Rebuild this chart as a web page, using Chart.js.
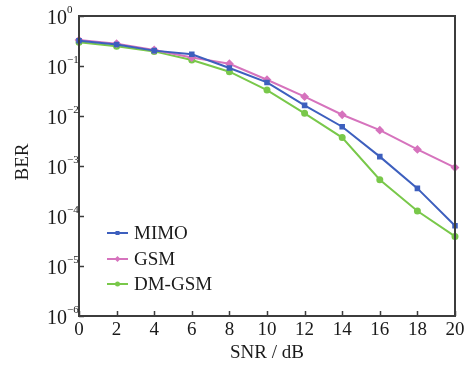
<!DOCTYPE html>
<html>
<head>
<meta charset="utf-8">
<script src="https://cdn.jsdelivr.net/npm/chart.js@4/dist/chart.umd.min.js"></script>
<style>
html,body{margin:0;padding:0;background:#fff;}
#wrap{width:475px;height:365px;}
</style>
</head>
<body>
<div id="wrap"><canvas id="c" width="475" height="365"></canvas></div>
<script>
const snr = [0, 2, 4, 6, 8, 10, 12, 14, 16, 18, 20];
const mimo = [0.32, 0.27, 0.203, 0.171, 0.091, 0.047, 0.0163, 0.0061, 0.00154, 0.000357, 0.000064];
const gsm = [0.33, 0.28, 0.209, 0.148, 0.111, 0.053, 0.0244, 0.0106, 0.0052, 0.00215, 0.00093];
const dmgsm = [0.297, 0.247, 0.196, 0.132, 0.077, 0.033, 0.0113, 0.0037, 0.00053, 0.000126, 0.000039];
const seriesNames = ['MIMO', 'GSM', 'DM-GSM'];
const xTicks = [0, 2, 4, 6, 8, 10, 12, 14, 16, 18, 20];
const yTickExps = [0, -1, -2, -3, -4, -5, -6];
const xTitle = 'SNR / dB';
const yTitle = 'BER';

const SERIF = '"Liberation Serif", "Times New Roman", serif';
const AXIS_COLOR = '#3c3c3c';
const TEXT_COLOR = '#1a1a1a';

function pts(vals){ return snr.map((x,i)=>({x:x, y:vals[i]})); }

const decor = {
  id: 'decor',
  afterDraw(chart){
    const ctx = chart.ctx;
    const a = chart.chartArea;
    const xs = chart.scales.x, ys = chart.scales.y;
    ctx.save();
    // frame
    ctx.strokeStyle = AXIS_COLOR;
    ctx.lineWidth = 2;
    ctx.strokeRect(a.left, a.top, a.right - a.left, a.bottom - a.top);
    // inward ticks
    ctx.lineWidth = 1.5;
    ctx.beginPath();
    xTicks.forEach(v=>{
      const px = Math.round(xs.getPixelForValue(v)) + 0.5;
      ctx.moveTo(px, a.bottom); ctx.lineTo(px, a.bottom - 5);
    });
    yTickExps.forEach(e=>{
      const py = Math.round(ys.getPixelForValue(Math.pow(10, e))) + 0.5;
      ctx.moveTo(a.left, py); ctx.lineTo(a.left + 5, py);
    });
    ctx.stroke();
    // y tick labels 10^e
    ctx.fillStyle = TEXT_COLOR;
    yTickExps.forEach(e=>{
      const py = ys.getPixelForValue(Math.pow(10, e));
      ctx.font = '20px ' + SERIF;
      ctx.textAlign = 'right';
      ctx.textBaseline = 'alphabetic';
      ctx.fillText('10', 67, py + 8);
      ctx.font = '11px ' + SERIF;
      ctx.textAlign = 'left';
      const s = e === 0 ? '0' : '\u2212' + String(-e);
      ctx.fillText(s, 67, py - 3);
    });
    // axis titles
    ctx.font = '19px ' + SERIF;
    ctx.textAlign = 'center';
    ctx.textBaseline = 'middle';
    ctx.fillText(xTitle, (a.left + a.right) / 2, 353);
    ctx.save();
    ctx.translate(23, 162);
    ctx.rotate(-Math.PI / 2);
    ctx.fillText(yTitle, 0, 0);
    ctx.restore();
    // legend
    const rows = [233, 259, 284];
    chart.data.datasets.forEach((ds, i)=>{
      const y = rows[i];
      ctx.strokeStyle = ds.borderColor;
      ctx.lineWidth = 2;
      ctx.beginPath();
      ctx.moveTo(107, y); ctx.lineTo(128, y);
      ctx.stroke();
      ctx.fillStyle = ds.borderColor;
      ctx.beginPath();
      if (ds.pointStyle === 'rect') ctx.rect(115.5, y - 2, 4, 4);
      else if (ds.pointStyle === 'rectRot') { ctx.moveTo(117.5, y - 3); ctx.lineTo(120.5, y); ctx.lineTo(117.5, y + 3); ctx.lineTo(114.5, y); ctx.closePath(); }
      else ctx.arc(117.5, y, 2.5, 0, Math.PI * 2);
      ctx.fill();
      ctx.fillStyle = TEXT_COLOR;
      ctx.font = '19px ' + SERIF;
      ctx.textAlign = 'left';
      ctx.textBaseline = 'middle';
      ctx.fillText(ds.label, 134, y + 1);
    });
    ctx.restore();
  }
};

new Chart(document.getElementById('c'), {
  type: 'line',
  data: {
    datasets: [
      { label: seriesNames[0], data: pts(mimo), borderColor: '#3d5fbe', backgroundColor: '#3d5fbe', pointStyle: 'rect', pointRadius: 2.5, borderWidth: 2, tension: 0 },
      { label: seriesNames[1], data: pts(gsm), borderColor: '#d673bd', backgroundColor: '#d673bd', pointStyle: 'rectRot', pointRadius: 3, borderWidth: 2, tension: 0 },
      { label: seriesNames[2], data: pts(dmgsm), borderColor: '#79c84a', backgroundColor: '#79c84a', pointStyle: 'circle', pointRadius: 2.5, borderWidth: 2, tension: 0 }
    ]
  },
  options: {
    responsive: false,
    animation: false,
    devicePixelRatio: 1,
    clip: false,
    layout: { padding: { left: 0, top: 16, right: 20, bottom: 0 } },
    plugins: { legend: { display: false }, tooltip: { enabled: false } },
    scales: {
      x: {
        type: 'linear', min: 0, max: 20,
        afterBuildTicks(s){ s.ticks = xTicks.map(v=>({value:v})); },
        afterFit(s){ s.height = 49; },
        grid: { display: false, drawTicks: false, tickLength: 0 },
        border: { display: false },
        ticks: { color: TEXT_COLOR, padding: 3, maxRotation: 0, autoSkip: false, font: { family: SERIF, size: 19 } }
      },
      y: {
        type: 'logarithmic', min: 1e-6, max: 1,
        afterFit(s){ s.width = 79; },
        grid: { display: false },
        border: { display: false },
        ticks: { display: false }
      }
    }
  },
  plugins: [decor]
});
</script>
</body>
</html>
